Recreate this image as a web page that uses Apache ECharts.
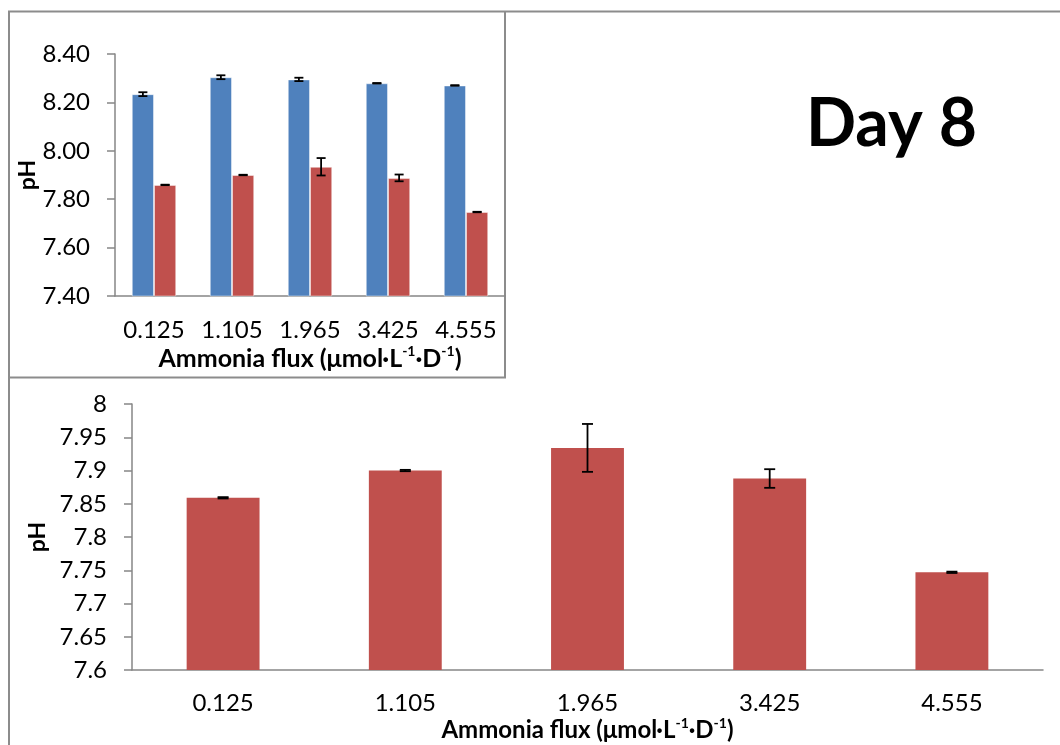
<!DOCTYPE html>
<html>
<head>
<meta charset="utf-8">
<script src="https://cdn.jsdelivr.net/npm/echarts@6/dist/echarts.min.js"></script>
<style>
  html, body { margin: 0; padding: 0; background: #fff; }
  #chart { width: 1060px; height: 745px; }
</style>
</head>
<body>
<div id="chart"></div>
<script>
// Ammonia flux treatments (µmol·L-1·D-1)
const categories = ['0.125', '1.105', '1.965', '3.425', '4.555'];

// pH of the two series (mean and error)
const phBlue = [8.234, 8.304, 8.295, 8.279, 8.270];
const phBlueErr = [0.008, 0.008, 0.007, 0.001, 0.001];
const phRed = [7.859, 7.900, 7.934, 7.888, 7.747];
const phRedErr = [0.001, 0.001, 0.036, 0.014, 0.001];

// axis ranges
const topAxis = { min: 7.4, max: 8.4, interval: 0.2 };
const bottomAxis = { min: 7.6, max: 8.0, interval: 0.05 };

const FONT = 'Lato';
const AXIS_GRAY = '#868686';
const BLUE = '#4F81BD';
const RED = '#C0504D';

const TOP_GAP = 0.43;
const BOTTOM_GAP = 0.60;

function errorItem(side, gap, capHalf) {
  return function (params, api) {
    const idx = api.value(0);
    const mean = api.value(1);
    const err = api.value(2);
    const band = api.size([1, 0])[0];
    const nBars = side === 0 ? 1 : 2;
    const barW = band * (1 - gap) / nBars;
    const dx = side * barW / 2;
    const hi = api.coord([idx, mean + err]);
    const lo = api.coord([idx, mean - err]);
    const x = hi[0] + dx;
    const style = { stroke: '#000', lineWidth: 1.8 };
    return {
      type: 'group',
      children: [
        { type: 'line', shape: { x1: x, y1: hi[1], x2: x, y2: lo[1] }, style },
        { type: 'line', shape: { x1: x - capHalf, y1: hi[1], x2: x + capHalf, y2: hi[1] }, style },
        { type: 'line', shape: { x1: x - capHalf, y1: lo[1], x2: x + capHalf, y2: lo[1] }, style }
      ]
    };
  };
}

const errData = (means, errs) => means.map((m, i) => [i, m, errs[i]]);

const axisTitle = (size) => ({
  fontFamily: FONT, fontWeight: 'bold', fontSize: size, color: '#000', lineHeight: size + 4,
  rich: { s: { fontFamily: FONT, fontWeight: 'bold', fontSize: Math.round(size * 0.58), color: '#000', verticalAlign: 'top', lineHeight: 14 } }
});

const xName = 'Ammonia flux (μmol·L{s|-1}·D{s|-1})';

const option = {
  animation: false,
  backgroundColor: '#fff',
  title: {
    text: 'Day 8',
    left: 801, top: 87,
    textStyle: { fontFamily: FONT, fontWeight: 'bold', fontSize: 66, color: '#000' }
  },
  graphic: [
    { type: 'line', shape: { x1: 8, y1: 11.5, x2: 1060, y2: 11.5 }, style: { stroke: '#8c8c8c', lineWidth: 2 } },
    { type: 'line', shape: { x1: 9, y1: 11, x2: 9, y2: 745 }, style: { stroke: '#8c8c8c', lineWidth: 2 } },
    { type: 'line', shape: { x1: 505, y1: 11, x2: 505, y2: 378 }, style: { stroke: '#8c8c8c', lineWidth: 2 } },
    { type: 'line', shape: { x1: 9, y1: 377.5, x2: 506, y2: 377.5 }, style: { stroke: '#8c8c8c', lineWidth: 2 } }
  ],
  grid: [
    { left: 115, top: 54, width: 390, height: 242 },
    { left: 132, top: 404, width: 911, height: 273 }
  ],
  xAxis: [
    {
      gridIndex: 0, type: 'category', data: categories,
      axisLine: { lineStyle: { color: AXIS_GRAY, width: 1.5 } },
      axisTick: { length: 7, lineStyle: { color: AXIS_GRAY, width: 1.5 } },
      axisLabel: { fontFamily: FONT, fontSize: 24, color: '#000', margin: 22, interval: 0 },
      name: xName, nameLocation: 'middle', nameGap: 48, nameTextStyle: axisTitle(25)
    },
    {
      gridIndex: 1, type: 'category', data: categories,
      axisLine: { lineStyle: { color: AXIS_GRAY, width: 1.5 } },
      axisTick: { length: 7, lineStyle: { color: AXIS_GRAY, width: 1.5 } },
      axisLabel: { fontFamily: FONT, fontSize: 24, color: '#000', margin: 21, interval: 0 },
      name: xName, nameLocation: 'middle', nameGap: 43, nameTextStyle: axisTitle(24)
    }
  ],
  yAxis: [
    {
      gridIndex: 0, type: 'value', min: topAxis.min, max: topAxis.max, interval: topAxis.interval,
      axisLine: { show: true, lineStyle: { color: AXIS_GRAY, width: 1.5 } },
      axisTick: { show: true, length: 8, lineStyle: { color: AXIS_GRAY, width: 1.5 } },
      splitLine: { show: false },
      axisLabel: { fontFamily: FONT, fontSize: 24, color: '#000', margin: 25, formatter: v => v.toFixed(2) },
      name: 'pH', nameLocation: 'middle', nameRotate: 90, nameGap: 72,
      nameTextStyle: { fontFamily: FONT, fontWeight: 'bold', fontSize: 23, color: '#000' }
    },
    {
      gridIndex: 1, type: 'value', min: bottomAxis.min, max: bottomAxis.max, interval: bottomAxis.interval,
      axisLine: { show: true, lineStyle: { color: AXIS_GRAY, width: 1.5 } },
      axisTick: { show: true, length: 8, lineStyle: { color: AXIS_GRAY, width: 1.5 } },
      splitLine: { show: false },
      axisLabel: { fontFamily: FONT, fontSize: 24, color: '#000', margin: 25, formatter: v => String(parseFloat(v.toFixed(2))) },
      name: 'pH', nameLocation: 'middle', nameRotate: 90, nameGap: 80,
      nameTextStyle: { fontFamily: FONT, fontWeight: 'bold', fontSize: 23, color: '#000' }
    }
  ],
  series: [
    {
      type: 'bar', xAxisIndex: 0, yAxisIndex: 0, data: phBlue,
      barGap: '0%', barCategoryGap: (TOP_GAP * 100) + '%',
      itemStyle: { color: BLUE, borderColor: 'rgba(255,255,255,0.45)', borderWidth: 1 }
    },
    {
      type: 'bar', xAxisIndex: 0, yAxisIndex: 0, data: phRed,
      barGap: '0%', barCategoryGap: (TOP_GAP * 100) + '%',
      itemStyle: { color: RED, borderColor: 'rgba(255,255,255,0.45)', borderWidth: 1 }
    },
    {
      type: 'bar', xAxisIndex: 1, yAxisIndex: 1, data: phRed,
      barCategoryGap: (BOTTOM_GAP * 100) + '%',
      itemStyle: { color: RED }
    },
    {
      type: 'custom', xAxisIndex: 0, yAxisIndex: 0, z: 5,
      renderItem: errorItem(-1, TOP_GAP, 4.5), data: errData(phBlue, phBlueErr)
    },
    {
      type: 'custom', xAxisIndex: 0, yAxisIndex: 0, z: 5,
      renderItem: errorItem(1, TOP_GAP, 4.5), data: errData(phRed, phRedErr)
    },
    {
      type: 'custom', xAxisIndex: 1, yAxisIndex: 1, z: 5,
      renderItem: errorItem(0, BOTTOM_GAP, 5.5), data: errData(phRed, phRedErr)
    }
  ]
};

const chart = echarts.init(document.getElementById('chart'), null, { renderer: 'canvas' });
chart.setOption(option);
</script>
</body>
</html>
